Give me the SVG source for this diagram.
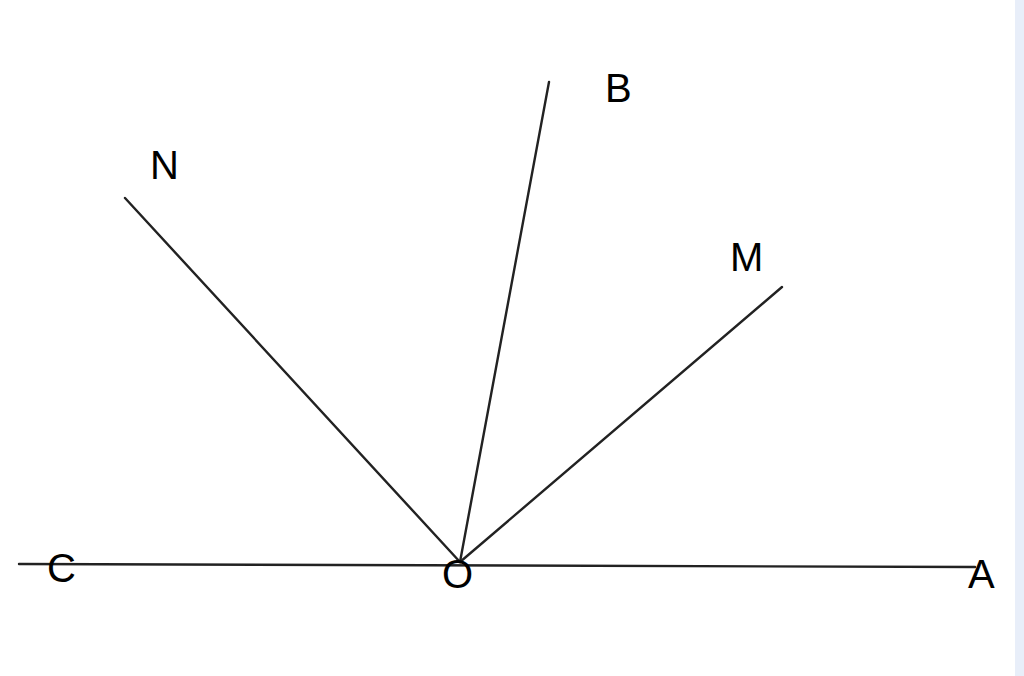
<svg xmlns="http://www.w3.org/2000/svg" width="1024" height="676" viewBox="0 0 1024 676">
<style>
.ln{stroke:#222;stroke-width:2.4;fill:none;stroke-linecap:round}
.lb{font-family:"Liberation Sans",Arial,sans-serif;font-size:40px;fill:#000}
</style>
<rect x="0" y="0" width="1024" height="676" fill="#fff"/>
<rect x="1015" y="0" width="9" height="676" fill="#e8eef9"/>
<g id="connectors">
<line class="ln" x1="19" y1="564" x2="975" y2="567"/>
<line class="ln" x1="125" y1="198" x2="460" y2="562"/>
<line class="ln" x1="549" y1="82" x2="460" y2="562"/>
<line class="ln" x1="782" y1="287" x2="460" y2="562"/>
</g>
<g id="N"><text class="lb" x="150" y="179">N</text></g>
<g id="B"><text class="lb" x="605" y="102">B</text></g>
<g id="M"><text class="lb" x="730" y="271">M</text></g>
<g id="C"><text class="lb" x="47" y="582">C</text></g>
<g id="O"><text class="lb" x="442" y="588">O</text></g>
<g id="A"><text class="lb" x="968" y="588">A</text></g>
</svg>
